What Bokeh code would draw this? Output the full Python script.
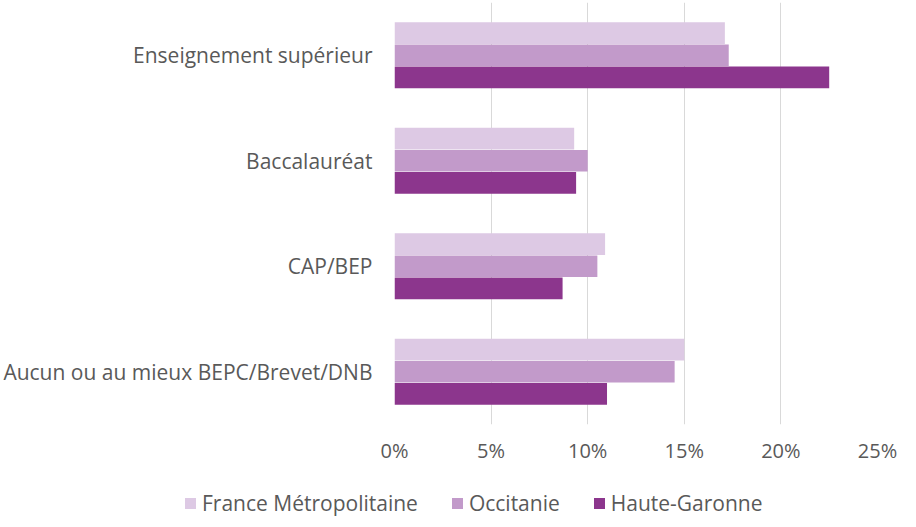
from bokeh.plotting import figure
from bokeh.layouts import column
from bokeh.models import FactorRange, Range1d, NumeralTickFormatter, FixedTicker, ColumnDataSource, Div
from bokeh.transform import dodge
from bokeh.embed import file_html
from bokeh.resources import INLINE

categories = ["Enseignement supérieur", "Baccalauréat", "CAP/BEP", "Aucun ou au mieux BEPC/Brevet/DNB"]
france = [0.171, 0.093, 0.109, 0.150]
occitanie = [0.173, 0.100, 0.105, 0.145]
haute_garonne = [0.225, 0.094, 0.087, 0.110]
series_names = ["France Métropolitaine", "Occitanie", "Haute-Garonne"]
colors = ["#DDC9E4", "#C29ACA", "#8C368D"]
x_ticks = [0.0, 0.05, 0.10, 0.15, 0.20, 0.25]

source = ColumnDataSource(dict(cat=categories, france=france, occitanie=occitanie, hg=haute_garonne))

p = figure(width=900, height=466, y_range=FactorRange(factors=categories[::-1]),
           x_range=Range1d(0, 0.25), output_backend="svg", toolbar_location=None,
           min_border_left=394, min_border_right=23, min_border_top=2, min_border_bottom=40)

offsets = [0.21, 0.0, -0.21]
cols = ["france", "occitanie", "hg"]
for col, off, c in zip(cols, offsets, colors):
    p.hbar(y=dodge("cat", off, range=p.y_range), right=col, left=0, height=0.205,
           source=source, fill_color=c, line_color=None)

p.xaxis.ticker = FixedTicker(ticks=x_ticks)
p.xaxis.formatter = NumeralTickFormatter(format="0%")
for ax in (p.xaxis, p.yaxis):
    ax.axis_line_color = None
    ax.major_tick_line_color = None
    ax.minor_tick_line_color = None
    ax.major_tick_out = 0
    ax.major_tick_in = 0
    ax.minor_tick_out = 0
    ax.major_label_text_color = "#595959"
    ax.major_label_text_font = "Open Sans"
p.xaxis.major_label_text_font_size = "20px"
p.yaxis.major_label_text_font_size = "21px"
p.yaxis.major_label_standoff = 22
p.xaxis.major_label_standoff = 12

p.xgrid.grid_line_color = "#D9D9D9"
p.xgrid.ticker = FixedTicker(ticks=x_ticks)
p.ygrid.grid_line_color = None
p.outline_line_color = None

# legend strip below the chart (HTML text)
parts = []
for name, c in zip(series_names, colors):
    parts.append(
        '<span style="display:inline-block;width:11px;height:11px;background:%s;'
        'margin-right:6px;vertical-align:middle;"></span>'
        '<span style="margin-right:34px;vertical-align:middle;">%s</span>' % (c, name))
legend_html = ('<div style="padding-left:180px;padding-top:18px;white-space:nowrap;'
               'font-family:\'Open Sans\';font-size:21px;line-height:25px;color:#595959;">'
               + "".join(parts) + "</div>")
legend_div = Div(text=legend_html, width=900, height=45)

layout = column(p, legend_div, spacing=0)
open("out.html", "w").write(file_html(layout, INLINE))
